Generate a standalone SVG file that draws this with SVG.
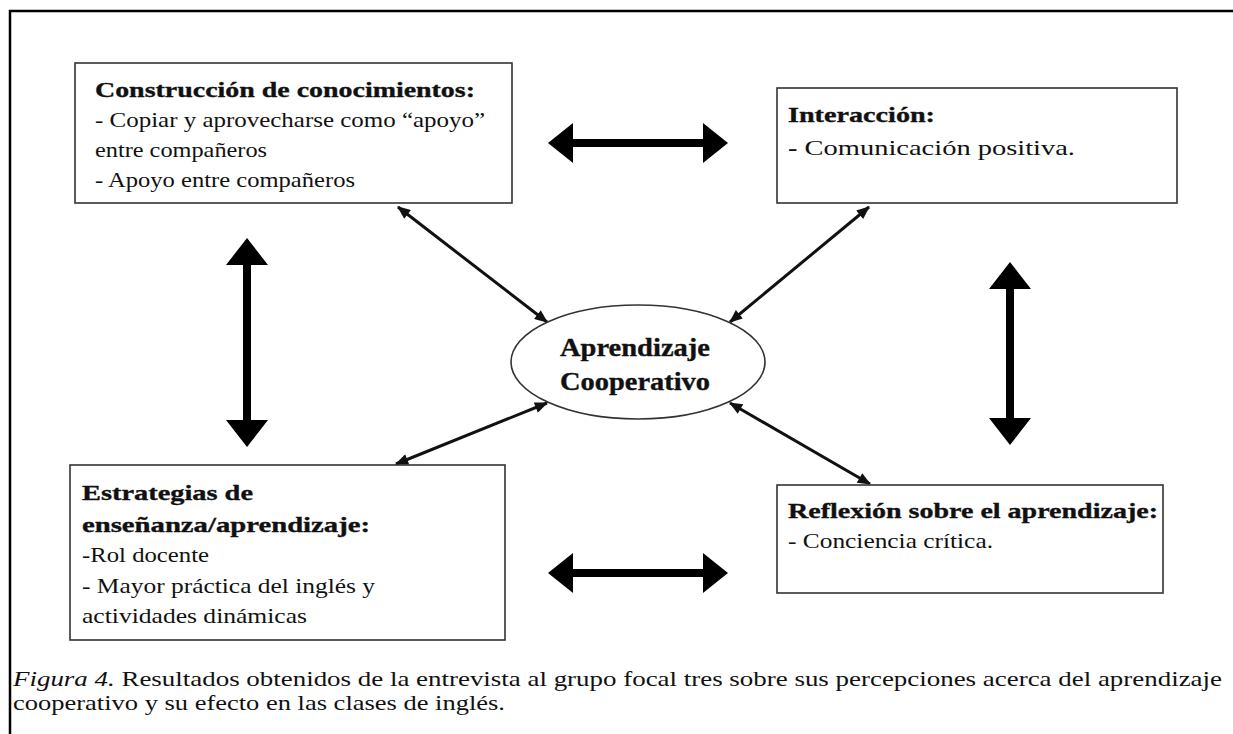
<svg xmlns="http://www.w3.org/2000/svg" width="1233" height="734" viewBox="0 0 1233 734">
<style>
.box{fill:#fff;stroke:#333;stroke-width:1.6}
text{font-family:'Liberation Serif','DejaVu Serif','Noto Serif',serif;fill:#111}
.b{font-weight:bold;font-size:22px;stroke:#111;stroke-width:0.35}
.c{font-size:25px}
.n{font-size:21px}
.thin{stroke:#111;stroke-width:3;fill:none;marker-start:url(#ah);marker-end:url(#ah)}
.thick{fill:#000}
</style>
<defs>
<marker id="ah" viewBox="0 0 12 10" refX="11" refY="5" markerWidth="14" markerHeight="11" markerUnits="userSpaceOnUse" orient="auto-start-reverse">
<path d="M0,0 L12,5 L0,10 Z" fill="#111"/>
</marker>
</defs>
<rect width="1233" height="734" fill="#fff"/>
<path d="M10,734 L10,11 L1233,11" fill="none" stroke="#000" stroke-width="2.5"/>

<g id="connectors">
<path class="thick" d="M548,143 L573,123 L573,139 L703,139 L703,123 L728,143 L703,163 L703,147 L573,147 L573,163 Z"/>
<path class="thick" d="M548,573 L573,553 L573,569 L703,569 L703,553 L728,573 L703,593 L703,577 L573,577 L573,593 Z"/>
<path class="thick" d="M247,238 L268,265 L251,265 L251,420 L268,420 L247,447 L226,420 L243,420 L243,265 L226,265 Z"/>
<path class="thick" d="M1010,262 L1031,289 L1014,289 L1014,418 L1031,418 L1010,445 L989,418 L1006,418 L1006,289 L989,289 Z"/>
<line class="thin" x1="398" y1="207" x2="547" y2="322"/>
<line class="thin" x1="869" y1="207" x2="730" y2="322"/>
<line class="thin" x1="547" y1="403" x2="396" y2="464"/>
<line class="thin" x1="730" y1="403" x2="870" y2="484"/>
</g>

<g id="node-construccion">
<rect class="box" x="75" y="63" width="437" height="140"/>
<text class="b" x="95" y="97" textLength="380" lengthAdjust="spacingAndGlyphs">Construcción de conocimientos:</text>
<text class="n" x="95" y="127" textLength="390" lengthAdjust="spacingAndGlyphs">- Copiar y aprovecharse como “apoyo”</text>
<text class="n" x="95" y="157" textLength="172" lengthAdjust="spacingAndGlyphs">entre compañeros</text>
<text class="n" x="95" y="187" textLength="260" lengthAdjust="spacingAndGlyphs">- Apoyo entre compañeros</text>
</g>

<g id="node-interaccion">
<rect class="box" x="777" y="88" width="400" height="115"/>
<text class="b" x="788" y="122" textLength="147" lengthAdjust="spacingAndGlyphs">Interacción:</text>
<text class="n" x="788" y="155" textLength="287" lengthAdjust="spacingAndGlyphs"><tspan font-weight="bold">-</tspan> Comunicación positiva.</text>
</g>

<g id="node-estrategias">
<rect class="box" x="70" y="465" width="435" height="175"/>
<text class="b" x="82" y="500" textLength="171" lengthAdjust="spacingAndGlyphs">Estrategias de</text>
<text class="b" x="82" y="532" textLength="288" lengthAdjust="spacingAndGlyphs">enseñanza/aprendizaje:</text>
<text class="n" x="82" y="562" textLength="127" lengthAdjust="spacingAndGlyphs">-Rol docente</text>
<text class="n" x="82" y="593" textLength="293" lengthAdjust="spacingAndGlyphs">- Mayor práctica del inglés y</text>
<text class="n" x="82" y="623" textLength="225" lengthAdjust="spacingAndGlyphs">actividades dinámicas</text>
</g>

<g id="node-reflexion">
<rect class="box" x="777" y="485" width="386" height="108"/>
<text class="b" x="788" y="518" textLength="370" lengthAdjust="spacingAndGlyphs">Reflexión sobre el aprendizaje:</text>
<text class="n" x="788" y="548" textLength="205" lengthAdjust="spacingAndGlyphs">- Conciencia crítica.</text>
</g>

<g id="node-aprendizaje">
<ellipse class="box" cx="638" cy="362" rx="127" ry="57" stroke-width="1.3"/>
<text class="b c" x="560" y="356" textLength="150" lengthAdjust="spacingAndGlyphs">Aprendizaje</text>
<text class="b c" x="560" y="390" textLength="150" lengthAdjust="spacingAndGlyphs">Cooperativo</text>
</g>

<g id="caption">
<text font-size="21" x="13" y="686" textLength="1209" lengthAdjust="spacingAndGlyphs"><tspan font-style="italic">Figura 4.</tspan> Resultados obtenidos de la entrevista al grupo focal tres sobre sus percepciones acerca del aprendizaje</text>
<text font-size="21" x="13" y="710" textLength="492" lengthAdjust="spacingAndGlyphs">cooperativo y su efecto en las clases de inglés.</text>
</g>
</svg>
